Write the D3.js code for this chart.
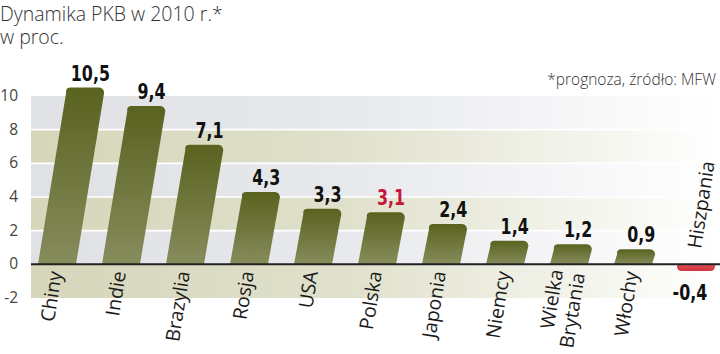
<!DOCTYPE html>
<html>
<head>
<meta charset="utf-8">
<script src="https://cdn.jsdelivr.net/npm/d3@7"></script>
<style>
  body { margin: 0; background: #fff; }
  svg { display: block; }
</style>
</head>
<body>
<svg id="chart" width="720" height="354"></svg>
<script>
// data
const countries = ["Chiny", "Indie", "Brazylia", "Rosja", "USA", "Polska", "Japonia", "Niemcy", "Wielka Brytania", "Włochy", "Hiszpania"];
const growth = [10.5, 9.4, 7.1, 4.3, 3.3, 3.1, 2.4, 1.4, 1.2, 0.9, -0.4];
const valueLabels = ["10,5", "9,4", "7,1", "4,3", "3,3", "3,1", "2,4", "1,4", "1,2", "0,9", "-0,4"];
const yTicks = [-2, 0, 2, 4, 6, 8, 10];
const titleLines = ["Dynamika PKB w 2010 r.*", "w proc."];
const highlight = "Polska";

const W = 720, H = 354;
const slope = 0.155;
const numFont = "'DejaVu Sans Condensed', 'DejaVu Sans', sans-serif";
const txtFont = "'Open Sans', 'DejaVu Sans', sans-serif";

const svg = d3.select("#chart");
const defs = svg.append("defs");

const x = d3.scaleBand().domain(countries).range([25, 729])
  .paddingInner(0.406).paddingOuter(0.203);
const y = d3.scaleLinear().domain([-2, 10]).range([298, 96]);

// fading bands
const fade = (id, col) => {
  const g = defs.append("linearGradient").attr("id", id)
    .attr("gradientUnits", "userSpaceOnUse")
    .attr("x1", 31).attr("x2", 720).attr("y1", 0).attr("y2", 0);
  g.append("stop").attr("offset", "0%").attr("stop-color", col).attr("stop-opacity", 1);
  g.append("stop").attr("offset", "45%").attr("stop-color", col).attr("stop-opacity", 0.75);
  g.append("stop").attr("offset", "100%").attr("stop-color", col).attr("stop-opacity", 0);
};
fade("bandGray", "#dfe1e5");
fade("bandBeige", "#d5d6ba");

const barGrad = defs.append("linearGradient").attr("id", "barGrad")
  .attr("x1", 0).attr("x2", 0).attr("y1", 0).attr("y2", 1);
barGrad.append("stop").attr("offset", "0%").attr("stop-color", "#59621f");
barGrad.append("stop").attr("offset", "100%").attr("stop-color", "#878c5c");

const redGrad = defs.append("linearGradient").attr("id", "redGrad")
  .attr("x1", 0).attr("x2", 0).attr("y1", 0).attr("y2", 1);
redGrad.append("stop").attr("offset", "0%").attr("stop-color", "#e0505a");
redGrad.append("stop").attr("offset", "100%").attr("stop-color", "#d2303c");

const bands = d3.pairs(yTicks);
svg.append("g").selectAll("rect").data(bands).join("rect")
  .attr("x", 31).attr("width", W - 31)
  .attr("y", d => y(d[1])).attr("height", d => y(d[0]) - y(d[1]))
  .attr("fill", (d, i) => i % 2 === 0 ? "url(#bandBeige)" : "url(#bandGray)");

svg.append("g").selectAll("line").data(yTicks.filter(t => t !== 0 && t !== -2 && t !== 10)).join("line")
  .attr("x1", 31).attr("x2", W)
  .attr("y1", d => y(d)).attr("y2", d => y(d))
  .attr("stroke", "#fff").attr("stroke-width", 1.6);

// y axis labels
svg.append("g").selectAll("text").data(yTicks).join("text")
  .attr("x", 18).attr("y", d => y(d) + 5)
  .attr("text-anchor", "end")
  .attr("font-family", txtFont).attr("font-size", 15.5)
  .attr("fill", "#444")
  .text(d => d);

// slanted bars
function barPath(name, v) {
  const x0 = x(name), w = x.bandwidth(), y0 = y(0), y1 = y(v), r = 5;
  const dx = slope * (y0 - y1);
  if (v >= 0) {
    const tx = x0 + dx;
    return `M${x0},${y0}L${tx + slope * r},${y1 + r}Q${tx},${y1} ${tx + r},${y1}` +
      `L${tx + w - r},${y1}Q${tx + w},${y1} ${tx + w + slope * r},${y1 + r}L${x0 + w},${y0}Z`;
  }
  const bx = x0 + dx;
  return `M${x0},${y0}L${x0 + w},${y0}L${bx + w},${y1 - r}Q${bx + w},${y1} ${bx + w - r},${y1}` +
    `L${bx + r},${y1}Q${bx},${y1} ${bx},${y1 - r}Z`;
}

const data = countries.map((c, i) => ({ c, v: growth[i], lab: valueLabels[i] }));

svg.append("g").selectAll("path").data(data).join("path")
  .attr("d", d => barPath(d.c, d.v))
  .attr("fill", d => d.v >= 0 ? "url(#barGrad)" : "url(#redGrad)");

// zero line
svg.append("line")
  .attr("x1", 31).attr("x2", W).attr("y1", y(0)).attr("y2", y(0))
  .attr("stroke", "#222").attr("stroke-width", 2);

// value labels (squeezed horizontally to mimic the condensed face)
svg.append("g").selectAll("text").data(data).join("text")
  .attr("transform", d => {
    const dx = slope * (y(0) - y(d.v));
    const cx = x(d.c) + dx + x.bandwidth() / 2 + (d.v >= 0 ? 6 : -6);
    const ty = d.v >= 0 ? y(d.v) - 7 : y(d.v) + 29;
    return `translate(${cx},${ty}) scale(0.84,1)`;
  })
  .attr("text-anchor", "middle")
  .attr("font-family", numFont).attr("font-weight", "bold")
  .attr("font-size", 21)
  .attr("fill", d => d.c === highlight ? "#c4173a" : "#111")
  .text(d => d.lab);

// category labels, rotated along the bar slant
const cat = svg.append("g").selectAll("text").data(data).join("text")
  .attr("transform", d => {
    const cx = x(d.c) + x.bandwidth() / 2;
    return d.v >= 0
      ? `translate(${cx + 5},${y(0) + 8}) rotate(-81)`
      : `translate(${cx + 4},${y(0) - 15}) rotate(-81)`;
  })
  .attr("text-anchor", d => d.v >= 0 ? "end" : "start")
  .attr("font-family", txtFont).attr("font-size", 19.5)
  .attr("fill", "#1a1a1a");

cat.each(function (d) {
  const words = d.c === "Wielka Brytania" ? ["Wielka", "Brytania"] : [d.c];
  const t = d3.select(this);
  words.forEach((wd, i) => {
    t.append("tspan").attr("x", 0)
      .attr("y", words.length > 1 ? (i === 0 ? -11 : 11) : 0)
      .text(wd);
  });
});

// title, two lines in one text
const title = svg.append("text")
  .attr("font-family", txtFont).attr("font-size", 19.5).attr("font-weight", 300)
  .attr("fill", "#333");
titleLines.forEach((line, i) => {
  title.append("tspan").attr("x", 0).attr("y", 21 + i * 23).text(line);
});

svg.append("text").attr("x", 716).attr("y", 85)
  .attr("text-anchor", "end")
  .attr("font-family", txtFont).attr("font-size", 15.5).attr("font-weight", 300)
  .attr("fill", "#333").text("*prognoza, źródło: MFW");
</script>
</body>
</html>
